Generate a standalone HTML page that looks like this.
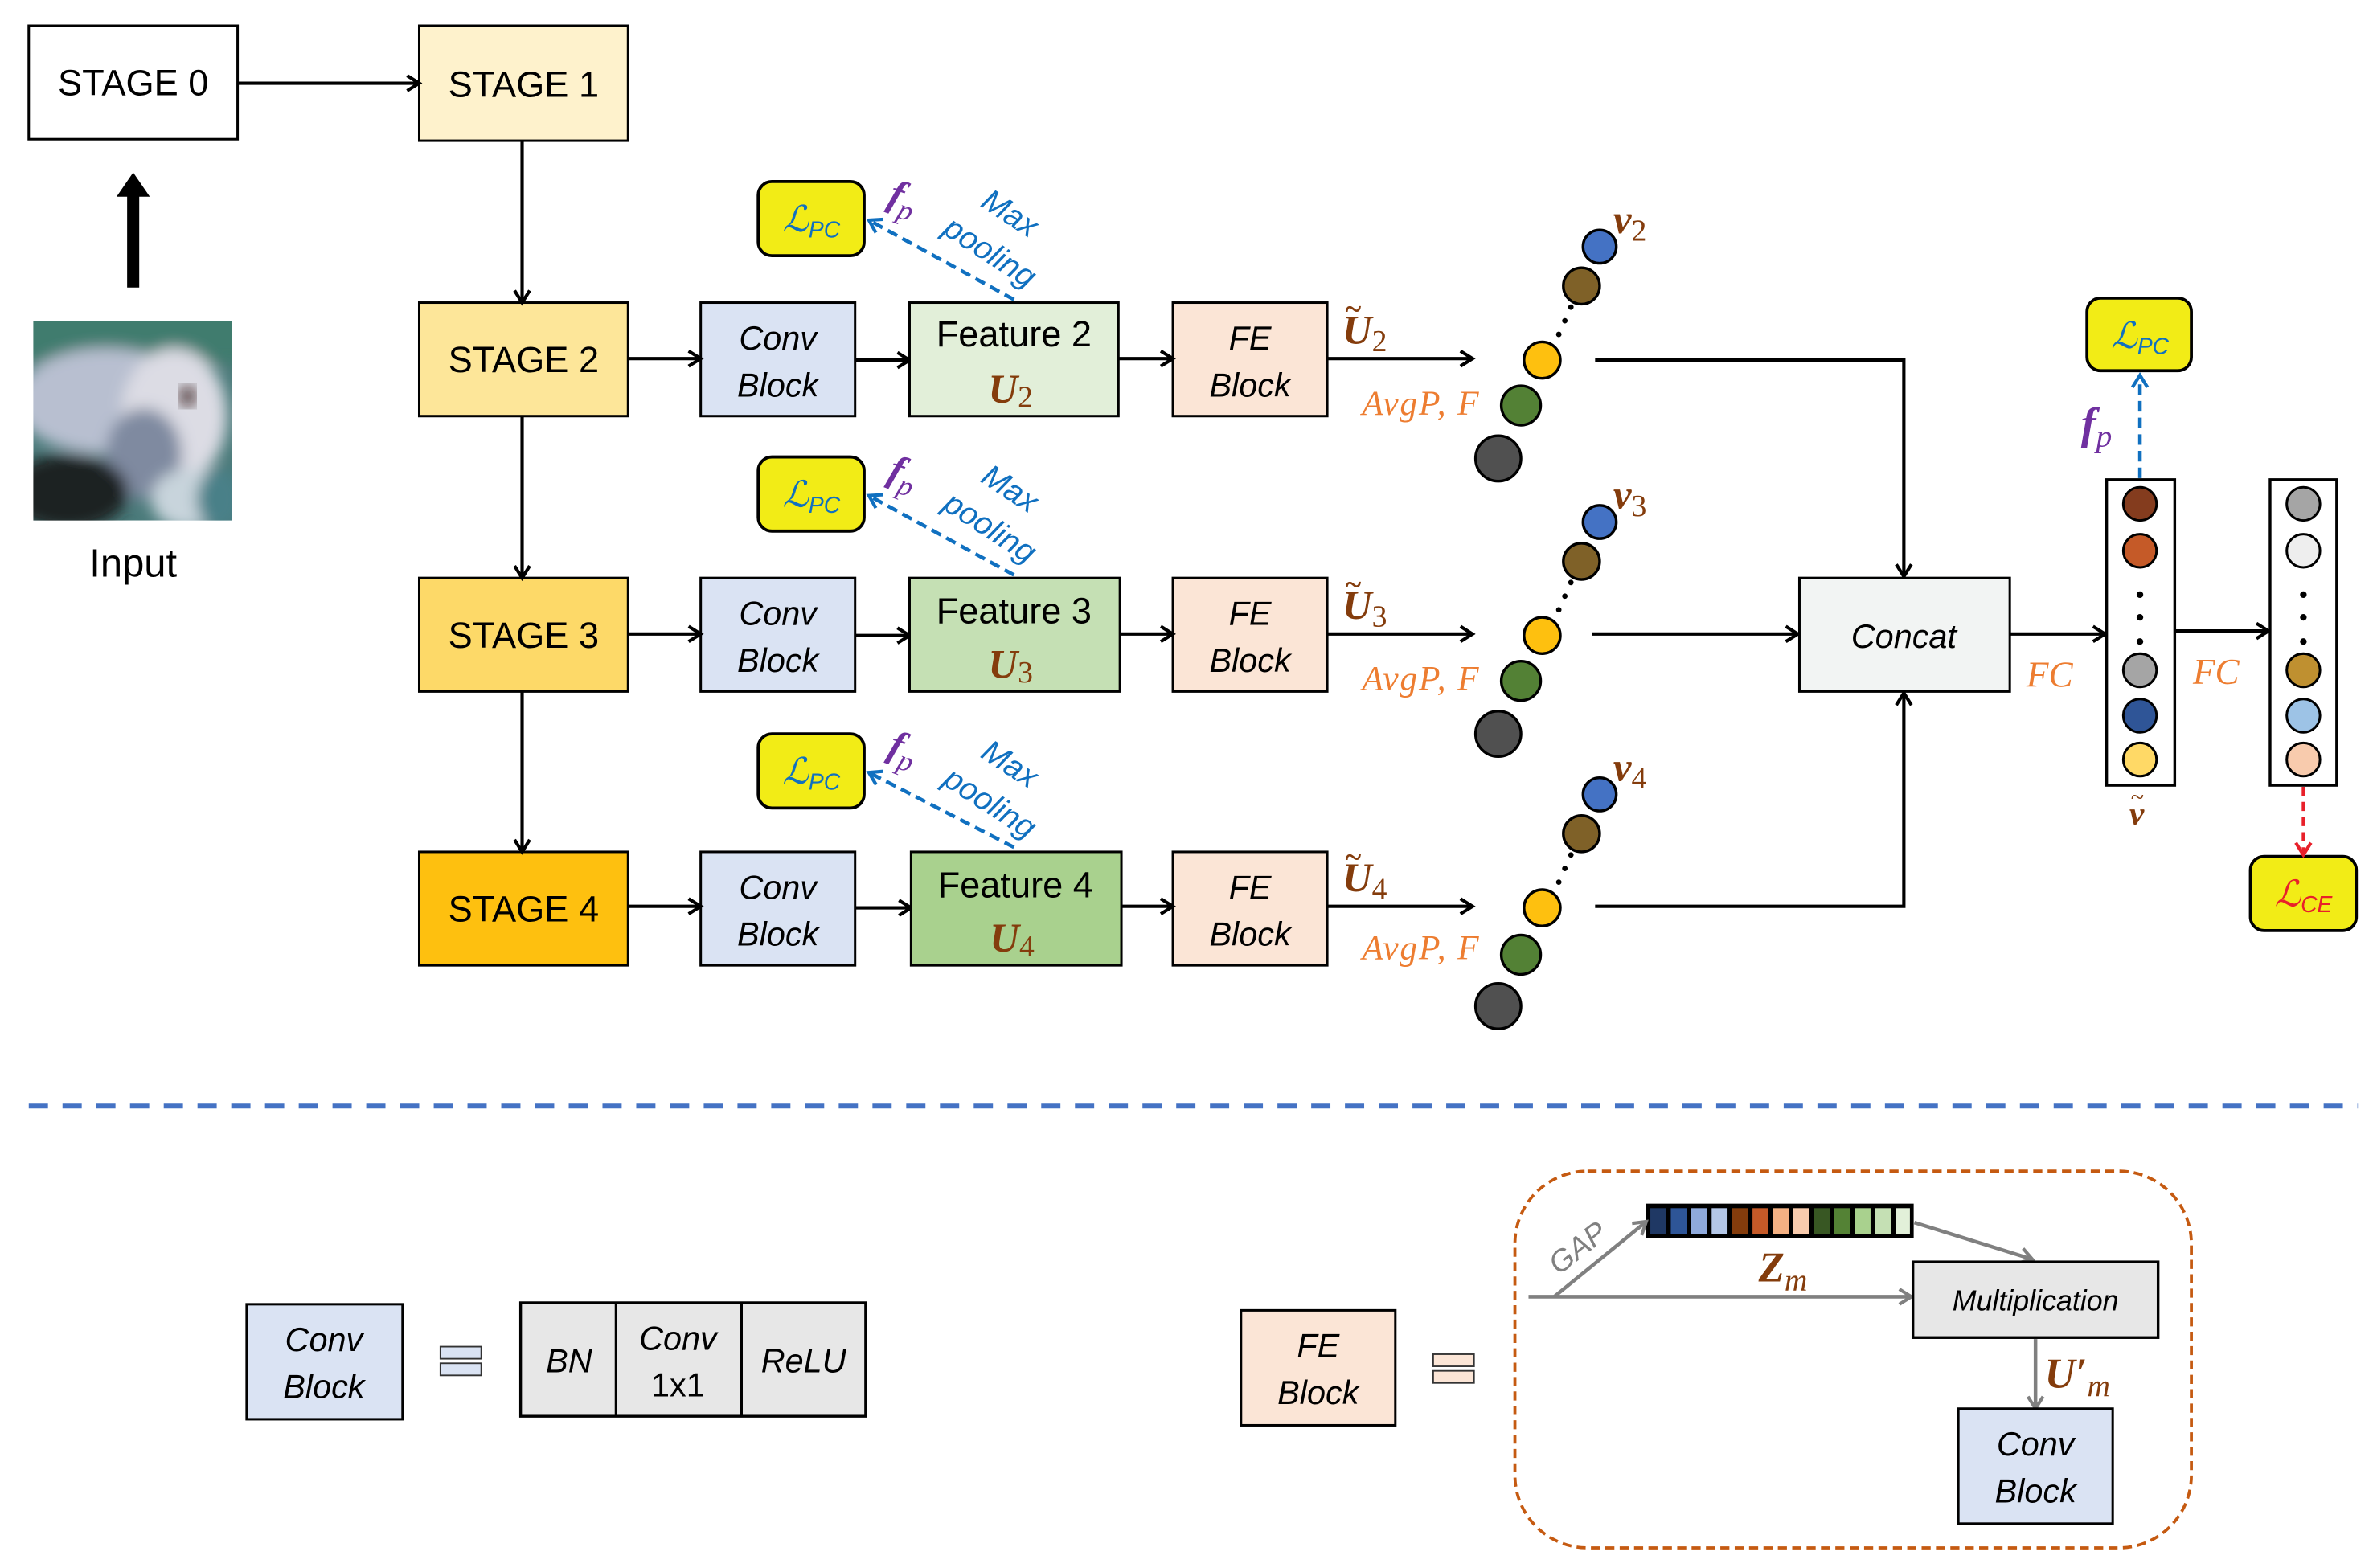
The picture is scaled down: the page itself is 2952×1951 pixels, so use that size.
<!DOCTYPE html>
<html><head><meta charset="utf-8"><style>
html,body{margin:0;padding:0;background:#fff;}
svg{display:block;}
.s{font-family:"Liberation Sans",sans-serif;}
.m{font-family:"Liberation Serif",serif;font-style:italic;font-weight:bold;}
</style></head><body>
<svg width="2952" height="1951" viewBox="0 0 1568 1036.3" xmlns="http://www.w3.org/2000/svg">
<defs>
<marker id="ab" markerWidth="12" markerHeight="12" refX="9" refY="6" orient="auto" markerUnits="userSpaceOnUse"><path d="M2,1 L10,6 L2,11" fill="none" stroke="#000" stroke-width="2.2"/></marker>
<marker id="ag" markerWidth="12" markerHeight="12" refX="9" refY="6" orient="auto" markerUnits="userSpaceOnUse"><path d="M2,1 L10,6 L2,11" fill="none" stroke="#808080" stroke-width="2.2"/></marker>
<marker id="abl" markerWidth="12" markerHeight="12" refX="9" refY="6" orient="auto" markerUnits="userSpaceOnUse"><path d="M2,1 L10,6 L2,11" fill="none" stroke="#1070c0" stroke-width="2.2"/></marker>
<marker id="ar" markerWidth="12" markerHeight="12" refX="9" refY="6" orient="auto" markerUnits="userSpaceOnUse"><path d="M2,1 L10,6 L2,11" fill="none" stroke="#e8202a" stroke-width="2.2"/></marker>
<filter id="bl" x="-10%" y="-10%" width="120%" height="120%"><feGaussianBlur stdDeviation="5"/></filter>
<clipPath id="ic"><rect x="22" y="212" width="131" height="132"/></clipPath>
</defs>
<g class="s" stroke="#000" stroke-width="1.6">
<rect x="19" y="17" width="138" height="75" fill="#fff"/>
<rect x="277" y="17" width="138" height="76" fill="#fef2cc"/>
<rect x="277" y="200" width="138" height="75" fill="#fde699"/>
<rect x="277" y="382" width="138" height="75" fill="#fdd968"/>
<rect x="277" y="563" width="138" height="75" fill="#fec00f"/>
</g>
<g class="s" font-size="24" text-anchor="middle" fill="#000">
<text x="88" y="63">STAGE 0</text><text x="346" y="64">STAGE 1</text>
<text x="346" y="246">STAGE 2</text><text x="346" y="428">STAGE 3</text><text x="346" y="609">STAGE 4</text>
</g>
<g stroke="#000" stroke-width="2.2" fill="none" marker-end="url(#ab)">
<line x1="157" y1="55" x2="276" y2="55"/>
<line x1="345" y1="93" x2="345" y2="199"/>
<line x1="345" y1="275" x2="345" y2="381"/>
<line x1="345" y1="457" x2="345" y2="562"/>
</g>
<path d="M84,190 L84,130 L77,130 L88,114 L99,130 L92,130 L92,190Z" fill="#000"/>
<g clip-path="url(#ic)">
<rect x="22" y="212" width="131" height="132" fill="#4a7a7a"/>
<g filter="url(#bl)">
<rect x="10" y="200" width="160" height="40" fill="#3f7c6e"/>
<ellipse cx="70" cy="265" rx="60" ry="35" fill="#b8bfd0"/>
<ellipse cx="115" cy="275" rx="35" ry="45" fill="#dcdce4"/>
<ellipse cx="95" cy="300" rx="25" ry="30" fill="#7f8aa0"/>
<ellipse cx="45" cy="325" rx="40" ry="25" fill="#1a2224"/>
<ellipse cx="125" cy="330" rx="25" ry="20" fill="#c8d4dc"/>
<ellipse cx="145" cy="330" rx="15" ry="20" fill="#4a8088"/>
</g>
<ellipse cx="124" cy="262" rx="5" ry="7" fill="#3a2424" filter="url(#bl)"/>
</g>
<text x="88" y="381" class="s" font-size="26" text-anchor="middle">Input</text>

<g id="r2">
<g stroke="#000" stroke-width="1.6">
<rect x="463" y="200" width="102" height="75" fill="#dae3f3"/>
<rect x="775" y="200" width="102" height="75" fill="#fbe5d6"/>
<rect x="501" y="120" width="70" height="49" rx="9" fill="#f2ec16" stroke-width="2"/>
</g>
<g stroke="#000" stroke-width="2.2" marker-end="url(#ab)">
<line x1="415" y1="237" x2="462" y2="237"/>
<line x1="565" y1="238" x2="600" y2="238"/>
<line x1="739" y1="237" x2="774" y2="237"/>
<line x1="877" y1="237" x2="972" y2="237"/>
</g>
<line x1="670" y1="198" x2="575" y2="146" stroke="#1070c0" stroke-width="2.4" stroke-dasharray="7,4" marker-end="url(#abl)"/>
<g class="s" font-style="italic" font-size="22" text-anchor="middle">
<text x="514" y="231">Conv</text><text x="514" y="262">Block</text>
<text x="826" y="231">FE</text><text x="826" y="262">Block</text>
</g>
<text x="517" y="153" font-family="Liberation Serif,serif" font-style="italic" font-size="24" fill="#1070c0">ℒ<tspan font-family="Liberation Sans,sans-serif" font-size="15" dy="4">PC</tspan></text>
<text x="588" y="138" class="m" font-size="26" fill="#7030a0" transform="rotate(20 596 130)">f<tspan font-size="19" dy="6" font-weight="normal">p</tspan></text>
<g class="s" font-style="italic" font-size="21" fill="#1070c0">
<text transform="translate(647,136) rotate(33)">Max</text>
<text transform="translate(622,154) rotate(33)">pooling</text>
</g>
<text x="887" y="227" class="m" font-size="27" fill="#843c0c">U<tspan font-size="20" font-weight="normal" font-style="normal" dy="5">2</tspan></text>
<text x="889" y="211" font-family="Liberation Serif,serif" font-size="20" font-weight="bold" fill="#843c0c">~</text>
<text x="900" y="274" font-family="Liberation Serif,serif" font-style="italic" font-size="23" fill="#ed7d31" letter-spacing="1">AvgP, F</text>
<g stroke="#000" stroke-width="1.8">
<circle cx="990" cy="303" r="15" fill="#505050"/>
<circle cx="1005" cy="268" r="13" fill="#538135"/>
<circle cx="1019" cy="238" r="12" fill="#fec00f"/>
<circle cx="1045" cy="189" r="12" fill="#7f6128"/>
<circle cx="1057" cy="163" r="11" fill="#4472c4"/>
</g>
<g fill="#000"><circle cx="1030" cy="221" r="1.8"/><circle cx="1034" cy="212" r="1.8"/><circle cx="1038" cy="203" r="1.8"/></g>
<text x="1066" y="154" class="m" font-size="27" fill="#843c0c">v<tspan font-size="20" font-weight="normal" font-style="normal" dy="5">2</tspan></text>
</g>

<g transform="translate(0,182)">
<g stroke="#000" stroke-width="1.6">
<rect x="463" y="200" width="102" height="75" fill="#dae3f3"/>
<rect x="775" y="200" width="102" height="75" fill="#fbe5d6"/>
<rect x="501" y="120" width="70" height="49" rx="9" fill="#f2ec16" stroke-width="2"/>
</g>
<g stroke="#000" stroke-width="2.2" marker-end="url(#ab)">
<line x1="415" y1="237" x2="462" y2="237"/>
<line x1="565" y1="238" x2="600" y2="238"/>
<line x1="740" y1="237" x2="774" y2="237"/>
<line x1="877" y1="237" x2="972" y2="237"/>
</g>
<line x1="670" y1="198" x2="575" y2="146" stroke="#1070c0" stroke-width="2.4" stroke-dasharray="7,4" marker-end="url(#abl)"/>
<g class="s" font-style="italic" font-size="22" text-anchor="middle">
<text x="514" y="231">Conv</text><text x="514" y="262">Block</text>
<text x="826" y="231">FE</text><text x="826" y="262">Block</text>
</g>
<text x="517" y="153" font-family="Liberation Serif,serif" font-style="italic" font-size="24" fill="#1070c0">ℒ<tspan font-family="Liberation Sans,sans-serif" font-size="15" dy="4">PC</tspan></text>
<text x="588" y="138" class="m" font-size="26" fill="#7030a0" transform="rotate(20 596 130)">f<tspan font-size="19" dy="6" font-weight="normal">p</tspan></text>
<g class="s" font-style="italic" font-size="21" fill="#1070c0">
<text transform="translate(647,136) rotate(33)">Max</text>
<text transform="translate(622,154) rotate(33)">pooling</text>
</g>
<text x="887" y="227" class="m" font-size="27" fill="#843c0c">U<tspan font-size="20" font-weight="normal" font-style="normal" dy="5">3</tspan></text>
<text x="889" y="211" font-family="Liberation Serif,serif" font-size="20" font-weight="bold" fill="#843c0c">~</text>
<text x="900" y="274" font-family="Liberation Serif,serif" font-style="italic" font-size="23" fill="#ed7d31" letter-spacing="1">AvgP, F</text>
<g stroke="#000" stroke-width="1.8">
<circle cx="990" cy="303" r="15" fill="#505050"/>
<circle cx="1005" cy="268" r="13" fill="#538135"/>
<circle cx="1019" cy="238" r="12" fill="#fec00f"/>
<circle cx="1045" cy="189" r="12" fill="#7f6128"/>
<circle cx="1057" cy="163" r="11" fill="#4472c4"/>
</g>
<g fill="#000"><circle cx="1030" cy="221" r="1.8"/><circle cx="1034" cy="212" r="1.8"/><circle cx="1038" cy="203" r="1.8"/></g>
<text x="1066" y="154" class="m" font-size="27" fill="#843c0c">v<tspan font-size="20" font-weight="normal" font-style="normal" dy="5">3</tspan></text>
</g>

<g transform="translate(0,362)">
<g stroke="#000" stroke-width="1.6">
<rect x="463" y="201" width="102" height="75" fill="#dae3f3"/>
<rect x="775" y="201" width="102" height="75" fill="#fbe5d6"/>
<rect x="501" y="123" width="70" height="49" rx="9" fill="#f2ec16" stroke-width="2"/>
</g>
<g stroke="#000" stroke-width="2.2" marker-end="url(#ab)">
<line x1="415" y1="237" x2="462" y2="237"/>
<line x1="565" y1="238" x2="601" y2="238"/>
<line x1="741" y1="237" x2="774" y2="237"/>
<line x1="877" y1="237" x2="972" y2="237"/>
</g>
<line x1="670" y1="198" x2="575" y2="149" stroke="#1070c0" stroke-width="2.4" stroke-dasharray="7,4" marker-end="url(#abl)"/>
<g class="s" font-style="italic" font-size="22" text-anchor="middle">
<text x="514" y="232">Conv</text><text x="514" y="263">Block</text>
<text x="826" y="232">FE</text><text x="826" y="263">Block</text>
</g>
<text x="517" y="156" font-family="Liberation Serif,serif" font-style="italic" font-size="24" fill="#1070c0">ℒ<tspan font-family="Liberation Sans,sans-serif" font-size="15" dy="4">PC</tspan></text>
<text x="588" y="140" class="m" font-size="26" fill="#7030a0" transform="rotate(20 596 132)">f<tspan font-size="19" dy="6" font-weight="normal">p</tspan></text>
<g class="s" font-style="italic" font-size="21" fill="#1070c0">
<text transform="translate(647,138) rotate(33)">Max</text>
<text transform="translate(622,156) rotate(33)">pooling</text>
</g>
<text x="887" y="227" class="m" font-size="27" fill="#843c0c">U<tspan font-size="20" font-weight="normal" font-style="normal" dy="5">4</tspan></text>
<text x="889" y="211" font-family="Liberation Serif,serif" font-size="20" font-weight="bold" fill="#843c0c">~</text>
<text x="900" y="272" font-family="Liberation Serif,serif" font-style="italic" font-size="23" fill="#ed7d31" letter-spacing="1">AvgP, F</text>
<g stroke="#000" stroke-width="1.8">
<circle cx="990" cy="303" r="15" fill="#505050"/>
<circle cx="1005" cy="269" r="13" fill="#538135"/>
<circle cx="1019" cy="238" r="12" fill="#fec00f"/>
<circle cx="1045" cy="189" r="12" fill="#7f6128"/>
<circle cx="1057" cy="163" r="11" fill="#4472c4"/>
</g>
<g fill="#000"><circle cx="1030" cy="221" r="1.8"/><circle cx="1034" cy="212" r="1.8"/><circle cx="1038" cy="203" r="1.8"/></g>
<text x="1066" y="154" class="m" font-size="27" fill="#843c0c">v<tspan font-size="20" font-weight="normal" font-style="normal" dy="5">4</tspan></text>
</g>

<g stroke="#000" stroke-width="1.6">
<rect x="601" y="200" width="138" height="75" fill="#e2efd9"/>
<rect x="601" y="382" width="139" height="75" fill="#c5e0b4"/>
<rect x="602" y="563" width="139" height="75" fill="#a9d18e"/>
</g>
<g class="s" font-size="24" text-anchor="middle">
<text x="670" y="229">Feature 2</text><text x="670" y="412">Feature 3</text><text x="671" y="593">Feature 4</text>
</g>
<g class="m" font-size="27" fill="#843c0c">
<text x="653" y="266">U<tspan font-size="20" font-weight="normal" font-style="normal" dy="3">2</tspan></text>
<text x="653" y="448">U<tspan font-size="20" font-weight="normal" font-style="normal" dy="3">3</tspan></text>
<text x="654" y="629">U<tspan font-size="20" font-weight="normal" font-style="normal" dy="3">4</tspan></text>
</g>

<g stroke="#000" stroke-width="2.2" fill="none">
<polyline points="1054,238 1258,238 1258,380" marker-end="url(#ab)"/>
<line x1="1052" y1="419" x2="1187" y2="419" marker-end="url(#ab)"/>
<polyline points="1054,599 1258,599 1258,459" marker-end="url(#ab)"/>
<line x1="1328" y1="419" x2="1390" y2="419" marker-end="url(#ab)"/>
<line x1="1437" y1="417" x2="1498" y2="417" marker-end="url(#ab)"/>
</g>
<rect x="1189" y="382" width="139" height="75" fill="#f2f4f3" stroke="#000" stroke-width="1.6"/>
<text x="1258" y="428" class="s" font-style="italic" font-size="22" text-anchor="middle">Concat</text>
<g font-family="Liberation Serif,serif" font-style="italic" font-size="24" fill="#ed7d31">
<text x="1339" y="454">FC</text><text x="1449" y="452">FC</text>
</g>
<rect x="1392" y="317" width="45" height="202" fill="#fff" stroke="#000" stroke-width="1.8"/>
<rect x="1500" y="317" width="44" height="202" fill="#fff" stroke="#000" stroke-width="1.8"/>
<g stroke="#000" stroke-width="1.6">
<circle cx="1414" cy="333" r="11" fill="#843c1e"/>
<circle cx="1414" cy="364" r="11" fill="#c55a28"/>
<circle cx="1414" cy="443" r="11" fill="#a5a5a5"/>
<circle cx="1414" cy="473" r="11" fill="#2f5597"/>
<circle cx="1414" cy="502" r="11" fill="#ffd966"/>
<circle cx="1522" cy="333" r="11" fill="#a5a5a5"/>
<circle cx="1522" cy="364" r="11" fill="#eeeeee"/>
<circle cx="1522" cy="443" r="11" fill="#bf9030"/>
<circle cx="1522" cy="473" r="11" fill="#9dc3e6"/>
<circle cx="1522" cy="502" r="11" fill="#f8cbad"/>
</g>
<g fill="#000">
<circle cx="1414" cy="393" r="2.2"/><circle cx="1414" cy="408" r="2.2"/><circle cx="1414" cy="424" r="2.2"/>
<circle cx="1522" cy="393" r="2.2"/><circle cx="1522" cy="408" r="2.2"/><circle cx="1522" cy="424" r="2.2"/>
</g>
<text x="1407" y="545" class="m" font-size="22" fill="#843c0c">v</text>
<text x="1408" y="532" font-family="Liberation Serif,serif" font-size="16" fill="#843c0c">~</text>
<rect x="1379" y="197" width="69" height="48" rx="9" fill="#f2ec16" stroke="#000" stroke-width="2"/>
<text x="1395" y="230" font-family="Liberation Serif,serif" font-style="italic" font-size="24" fill="#1070c0">ℒ<tspan font-family="Liberation Sans,sans-serif" font-size="15" dy="4">PC</tspan></text>
<line x1="1414" y1="316" x2="1414" y2="249" stroke="#1070c0" stroke-width="2.4" stroke-dasharray="7,4" marker-end="url(#abl)"/>
<text x="1375" y="290" class="m" font-size="30" fill="#7030a0">f<tspan font-size="21" font-weight="normal" dy="5">p</tspan></text>
<rect x="1487" y="566" width="70" height="49" rx="9" fill="#f2ec16" stroke="#000" stroke-width="2"/>
<text x="1503" y="599" font-family="Liberation Serif,serif" font-style="italic" font-size="24" fill="#e8202a">ℒ<tspan font-family="Liberation Sans,sans-serif" font-size="15" dy="4">CE</tspan></text>
<line x1="1522" y1="520" x2="1522" y2="564" stroke="#e8202a" stroke-width="2.2" stroke-dasharray="6,4" marker-end="url(#ar)"/>

<line x1="19" y1="731" x2="1558" y2="731" stroke="#4472c4" stroke-width="3.2" stroke-dasharray="12.7,9.6"/>

<rect x="163" y="862" width="103" height="76" fill="#dae3f3" stroke="#000" stroke-width="1.6"/>
<g class="s" font-style="italic" font-size="22" text-anchor="middle">
<text x="214" y="893">Conv</text><text x="214" y="924">Block</text>
</g>
<rect x="291" y="890" width="27" height="8" fill="#dae3f3" stroke="#333" stroke-width="1"/>
<rect x="291" y="901" width="27" height="8" fill="#dae3f3" stroke="#333" stroke-width="1"/>
<rect x="344" y="861" width="228" height="75" fill="#e7e7e7" stroke="#000" stroke-width="1.8"/>
<line x1="407" y1="861" x2="407" y2="936" stroke="#000" stroke-width="1.6"/>
<line x1="490" y1="861" x2="490" y2="936" stroke="#000" stroke-width="1.6"/>
<g class="s" font-size="22" text-anchor="middle">
<text x="376" y="907" font-style="italic">BN</text>
<text x="448" y="892" font-style="italic">Conv</text>
<text x="448" y="923">1x1</text>
<text x="531" y="907" font-style="italic">ReLU</text>
</g>

<rect x="820" y="866" width="102" height="76" fill="#fbe5d6" stroke="#000" stroke-width="1.6"/>
<g class="s" font-style="italic" font-size="22" text-anchor="middle">
<text x="871" y="897">FE</text><text x="871" y="928">Block</text>
</g>
<rect x="947" y="895" width="27" height="8" fill="#fbe5d6" stroke="#333" stroke-width="1"/>
<rect x="947" y="906" width="27" height="8" fill="#fbe5d6" stroke="#333" stroke-width="1"/>
<rect x="1001" y="774" width="447" height="249" rx="48" fill="none" stroke="#c55a11" stroke-width="2" stroke-dasharray="6,3.5"/>
<g stroke="#000" stroke-width="1">
<rect x="1088" y="796" width="176" height="22" fill="#000"/>
<rect x="1090" y="798" width="11.5" height="18" fill="#1f3864"/>
<rect x="1103.5" y="798" width="11.5" height="18" fill="#2e5597"/>
<rect x="1117" y="798" width="11.5" height="18" fill="#8faadc"/>
<rect x="1130.5" y="798" width="11.5" height="18" fill="#b4c7e7"/>
<rect x="1144" y="798" width="11.5" height="18" fill="#843c0c"/>
<rect x="1157.5" y="798" width="11.5" height="18" fill="#c55a28"/>
<rect x="1171" y="798" width="11.5" height="18" fill="#f4b183"/>
<rect x="1184.5" y="798" width="11.5" height="18" fill="#f8cbad"/>
<rect x="1198" y="798" width="11.5" height="18" fill="#385723"/>
<rect x="1211.5" y="798" width="11.5" height="18" fill="#548235"/>
<rect x="1225" y="798" width="11.5" height="18" fill="#a9d18e"/>
<rect x="1238.5" y="798" width="11.5" height="18" fill="#c5e0b4"/>
<rect x="1252" y="798" width="10.5" height="18" fill="#e2f0d9"/>
</g>
<g stroke="#808080" stroke-width="2.4" fill="none" marker-end="url(#ag)">
<line x1="1010" y1="857" x2="1262" y2="857"/>
<line x1="1027" y1="857" x2="1087" y2="808"/>
<line x1="1265" y1="808" x2="1342" y2="832"/>
<line x1="1345" y1="885" x2="1345" y2="930"/>
</g>
<text transform="translate(1030,843) rotate(-38)" class="s" font-style="italic" font-size="20" fill="#808080">GAP</text>
<text x="1162" y="847" class="m" font-size="28" fill="#843c0c">Z<tspan font-size="21" font-weight="normal" dy="6">m</tspan></text>
<rect x="1264" y="834" width="162" height="50" fill="#e7e7e7" stroke="#000" stroke-width="1.8"/>
<text x="1345" y="866" class="s" font-style="italic" font-size="19" text-anchor="middle">Multiplication</text>
<text x="1351" y="917" class="m" font-size="28" fill="#843c0c">U′<tspan font-size="21" font-weight="normal" dy="6">m</tspan></text>
<rect x="1294" y="931" width="102" height="76" fill="#dae3f3" stroke="#000" stroke-width="1.6"/>
<g class="s" font-style="italic" font-size="22" text-anchor="middle">
<text x="1345" y="962">Conv</text><text x="1345" y="993">Block</text>
</g>
</svg>
</body></html>
